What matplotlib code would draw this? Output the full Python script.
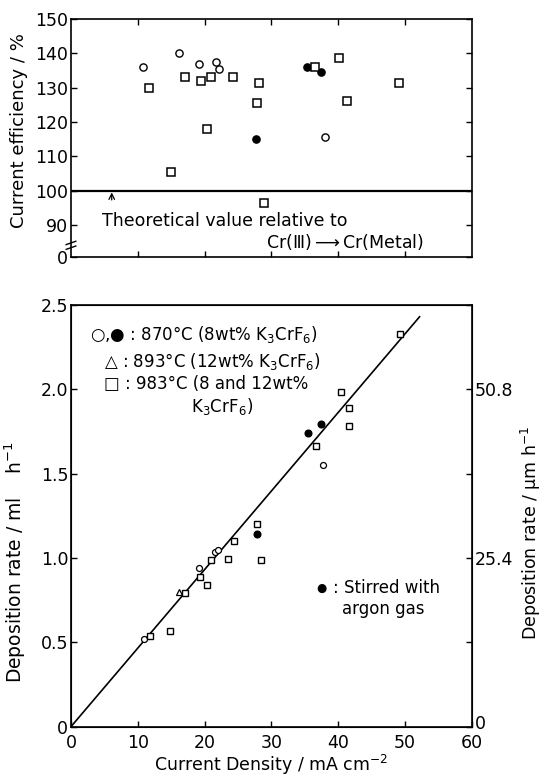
import matplotlib
matplotlib.use("Agg")
import matplotlib.pyplot as plt
import matplotlib.transforms as mtransforms
import numpy as np

plt.rcParams['font.family'] = ['DejaVu Sans']
plt.rcParams['mathtext.fontset'] = 'dejavusans'

# ---- Top panel: current efficiency (%) ----
eff_open_x = [10.8, 16.2, 19.2, 21.7, 22.1, 38.0]
eff_open_y = [136.0, 140.0, 137.0, 137.5, 135.5, 115.5]
eff_fill_x = [27.7, 35.4, 37.4]
eff_fill_y = [115.0, 136.0, 134.5]
eff_sq_x = [11.7, 15.0, 17.0, 19.4, 20.4, 20.9, 24.3, 28.1, 27.9, 28.9, 36.5, 40.2, 41.3, 49.1]
eff_sq_y = [130.0, 105.5, 133.0, 132.0, 118.0, 133.0, 133.0, 131.5, 125.5, 96.5, 136.0, 138.5, 126.0, 131.5]

# ---- Bottom panel: deposition rate (mil/h) ----
dep_open_x = [10.9, 19.1, 21.6, 22.0, 37.8]
dep_open_y = [0.52, 0.94, 1.035, 1.05, 1.55]
dep_fill_x = [27.8, 35.5, 37.4]
dep_fill_y = [1.145, 1.74, 1.795]
dep_tri_x = [16.1]
dep_tri_y = [0.80]
dep_sq_x = [11.8, 14.85, 17.1, 19.3, 20.3, 20.9, 23.5, 24.4, 27.8, 28.4, 36.7, 40.4, 41.6, 41.7, 49.3]
dep_sq_y = [0.535, 0.565, 0.79, 0.89, 0.84, 0.99, 0.995, 1.10, 1.20, 0.99, 1.665, 1.985, 1.89, 1.785, 2.33]
fit_x = [0.0, 52.2]
fit_y = [0.0, 2.43]

x_ticks = [0, 10, 20, 30, 40, 50, 60]
eff_ticks = [80.7, 90, 100, 110, 120, 130, 140, 150]
eff_labels = ['0', '90', '100', '110', '120', '130', '140', '150']
dep_ticks = [0, 0.5, 1.0, 1.5, 2.0, 2.5]
dep_labels = ['0', '0.5', '1.0', '1.5', '2.0', '2.5']
um_ticks = [0, 0.5, 1.0, 1.5, 2.0, 2.5]
um_labels = ['0', '', '25.4', '', '50.8', '']

fig = plt.figure(figsize=(5.44, 7.78), dpi=100)

FS = 13
FT = 12.5
L, W = 0.1305, 0.7365
# top axes
ax1 = fig.add_axes([L, 0.6697, W, 0.3059])
ax1.set_xlim(0, 60)
ax1.set_ylim(80.7, 150)
ax1.set_xticks(x_ticks[1:-1])
ax1.set_xticklabels([])
ax1.set_yticks(eff_ticks)
ax1.set_yticklabels(eff_labels, fontsize=FT)
ax1.tick_params(direction='in', top=True, right=True, length=4, width=1, pad=2)
for s in ax1.spines.values():
    s.set_linewidth(1.2)
ax1.axhline(100, color='black', lw=1.6)
ax1.plot(eff_open_x, eff_open_y, 'o', mfc='white', mec='black', ms=5.2, mew=1.0)
ax1.plot(eff_fill_x, eff_fill_y, 'o', mfc='black', mec='black', ms=5.2)
ax1.plot(eff_sq_x, eff_sq_y, 's', mfc='white', mec='black', ms=5.3, mew=1.1)
ax1.set_ylabel('Current efficiency / %', fontsize=FS)
ax1.yaxis.set_label_coords(-0.108, 0.53)
ax1.annotate('', xy=(6.1, 100.3), xytext=(6.1, 96.5),
             arrowprops=dict(arrowstyle='->', color='black', lw=0.9))
ax1.text(4.6, 91.3, 'Theoretical value relative to', fontsize=12.5, va='center', ha='left')
ax1.text(29.2, 85.1, 'Cr(Ⅲ)$\\longrightarrow$Cr(Metal)', fontsize=12.5, va='center', ha='left')
# axis break marks
bk = dict(transform=ax1.transAxes, color='black', lw=1.0, clip_on=False)
ax1.plot([-0.012, 0.012], [0.052, 0.066], **bk)
ax1.plot([-0.012, 0.012], [0.032, 0.046], **bk)

# bottom axes
ax2 = fig.add_axes([L, 0.066, W, 0.542])
ax2.set_xlim(0, 60)
ax2.set_ylim(0, 2.5)
ax2.set_xticks(x_ticks)
ax2.set_xticklabels([str(v) for v in x_ticks], fontsize=FT)
ax2.set_yticks(dep_ticks)
ax2.set_yticklabels(dep_labels, fontsize=FT)
ax2.tick_params(direction='in', length=4, width=1, pad=2)
ax2.tick_params(axis='x', pad=5)
for s in ax2.spines.values():
    s.set_linewidth(1.2)
ax2.plot(fit_x, fit_y, '-', color='black', lw=1.2)
ax2.plot(dep_open_x, dep_open_y, 'o', mfc='white', mec='black', ms=4.3, mew=0.9)
ax2.plot(dep_fill_x, dep_fill_y, 'o', mfc='black', mec='black', ms=4.8)
ax2.plot(dep_tri_x, dep_tri_y, '^', mfc='white', mec='black', ms=4.3, mew=0.9)
ax2.plot(dep_sq_x, dep_sq_y, 's', mfc='white', mec='black', ms=4.6, mew=1.0)
ax2.set_xlabel('Current Density / mA cm$^{-2}$', fontsize=12.5, labelpad=1)
ax2.set_ylabel('Deposition rate / ml    h$^{-1}$', fontsize=13.5)
ax2.yaxis.set_label_coords(-0.108, 0.39)

ax3 = ax2.twinx()
ax3.set_ylim(0, 2.5)
ax3.set_yticks(um_ticks)
ax3.set_yticklabels(um_labels, fontsize=FT)
ax3.tick_params(direction='in', length=4, width=1, pad=2)
ax3.set_ylabel('Deposition rate / µm h$^{-1}$', fontsize=12.5)
ax3.yaxis.set_label_coords(1.118, 0.46)
zero_lab = ax3.get_yticklabels()[0]
zero_lab.set_transform(zero_lab.get_transform() +
                       mtransforms.ScaledTranslation(0, 3 / 72, fig.dpi_scale_trans))

# legend-like texts
LS = 12
ax2.text(2.9, 2.325, '○,● : 870°C (8wt% K$_3$CrF$_6$)', fontsize=LS, va='center')
ax2.text(4.9, 2.166, '△ : 893°C (12wt% K$_3$CrF$_6$)', fontsize=LS, va='center')
ax2.text(4.9, 2.03, '□ : 983°C (8 and 12wt%', fontsize=LS, va='center')
ax2.text(18.0, 1.90, 'K$_3$CrF$_6$)', fontsize=LS, va='center')
ax2.text(37.5, 0.82, '●', fontsize=8.5, va='center', ha='center')
ax2.text(39.2, 0.82, ': Stirred with', fontsize=LS, va='center')
ax2.text(40.6, 0.70, 'argon gas', fontsize=LS, va='center')

fig.savefig('out.png', dpi=100)
